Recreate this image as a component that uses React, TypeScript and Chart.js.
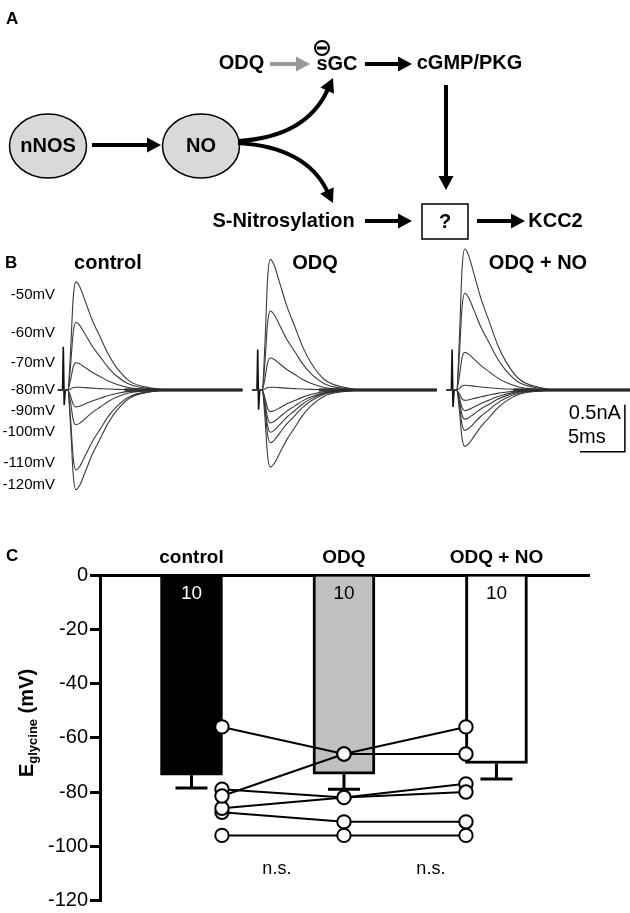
import React, { useEffect, useRef } from 'react';
import { Chart, registerables } from 'chart.js';

Chart.register(...registerables);

const FONT = '"Liberation Sans", Arial, Helvetica, sans-serif';

// ---------------- Panel C data ----------------
const CATEGORIES = ['control', 'ODQ', 'ODQ + NO'];
const MEANS = [-73.8, -73.4, -69.5];
const SEMS = [4.7, 5.6, 5.7];
const N_CELLS = ['10', '10', '10'];
const BAR_COLORS = ['#000000', '#c0c0c0', '#ffffff'];
const N_LABEL_COLORS = ['#ffffff', '#000000', '#000000'];
const CONTROL_CELLS = [-56, -81.5, -79, -86, -87.5, -96];
const ODQ_CELLS = [-66, -66, -82, -82, -91, -96];
const ODQ_NO_CELLS = [-66, -56, -80, -77, -91, -96];
const CELL_X = [0.2, 1, 1.8];
const SIG_LABELS = ['n.s.', 'n.s.'];
const SIG_X = [0.56, 1.57];
const SIG_Y = -108.3;

// ---------------- Panel B data ----------------
const TRACE_TITLES = ['control', 'ODQ', 'ODQ + NO'];
const TRACE_OFFSETS_MS = [0, 21.6, 43.2];
const CONTROL_AMPS = [1.15, 0.72, 0.29, 0.03, -0.18, -0.37, -0.85, -1.06];
const ODQ_AMPS = [1.39, 0.84, 0.34, 0.03, -0.23, -0.35, -0.45, -0.56, -0.82];
const ODQ_NO_AMPS = [1.5, 1.03, 0.4, 0.05, -0.11, -0.22, -0.31, -0.43, -0.6];
const WAVE_T = [-0.6, 0.5, 0.8, 1.1, 1.4, 1.8, 2.4, 3.2, 4.1, 5.0, 5.9, 7.4, 9.6, 12, 19.9];
const WAVE_SHAPE = [0, 0, 0.35, 0.85, 1, 0.96, 0.83, 0.65, 0.49, 0.33, 0.21, 0.08, 0.02, 0, 0];
const ARTIFACT_T = [-0.6, -0.08, 0, 0.1, 0.22, 0.5];
const ARTIFACT_UP = [0.46, 0.43, 0.43];
const ARTIFACT_DOWN = [-0.16, -0.21, -0.18];
const HOLDING_LABELS = ['-50mV', '-60mV', '-70mV', '-80mV', '-90mV', '-100mV', '-110mV', '-120mV'];
const HOLDING_LABEL_NA = [1.01, 0.61, 0.29, 0.0, -0.22, -0.45, -0.77, -1.01];
const SCALE_BAR_MS = 5;
const SCALE_BAR_NA = 0.5;
const SCALE_BAR_LABELS = ['0.5nA', '5ms'];

// ---------------- layout constants ----------------
const B_TOP = 235;
const B_H = 270;
const C_TOP = 540;
const C_H = 373;

function text(
  ctx: CanvasRenderingContext2D,
  s: string,
  x: number,
  y: number,
  font: string,
  align: CanvasTextAlign = 'center',
  color = '#000'
) {
  ctx.save();
  ctx.font = font;
  ctx.fillStyle = color;
  ctx.textAlign = align;
  ctx.textBaseline = 'middle';
  ctx.fillText(s, x, y);
  ctx.restore();
}

function arrowHead(ctx: CanvasRenderingContext2D, tx: number, ty: number, dx: number, dy: number, len: number, hw: number, color: string) {
  const l = Math.hypot(dx, dy);
  const ux = dx / l, uy = dy / l;
  const bx = tx - ux * len, by = ty - uy * len;
  ctx.beginPath();
  ctx.moveTo(tx, ty);
  ctx.lineTo(bx - uy * hw, by + ux * hw);
  ctx.lineTo(bx + uy * hw, by - ux * hw);
  ctx.closePath();
  ctx.fillStyle = color;
  ctx.fill();
}

function straightArrow(ctx: CanvasRenderingContext2D, x1: number, y1: number, x2: number, y2: number, color = '#000') {
  const len = 14, hw = 7.5;
  const l = Math.hypot(x2 - x1, y2 - y1);
  const ux = (x2 - x1) / l, uy = (y2 - y1) / l;
  ctx.save();
  ctx.strokeStyle = color;
  ctx.lineWidth = 4;
  ctx.beginPath();
  ctx.moveTo(x1, y1);
  ctx.lineTo(x2 - ux * (len - 1), y2 - uy * (len - 1));
  ctx.stroke();
  arrowHead(ctx, x2, y2, ux, uy, len, hw, color);
  ctx.restore();
}

function curvedArrow(ctx: CanvasRenderingContext2D, x0: number, y0: number, cx: number, cy: number, x1: number, y1: number) {
  const len = 14, hw = 7.5;
  const dx = x1 - cx, dy = y1 - cy;
  const l = Math.hypot(dx, dy);
  const ux = dx / l, uy = dy / l;
  ctx.save();
  ctx.strokeStyle = '#000';
  ctx.lineWidth = 4;
  ctx.beginPath();
  ctx.moveTo(x0, y0);
  ctx.quadraticCurveTo(cx, cy, x1 - ux * (len - 1), y1 - uy * (len - 1));
  ctx.stroke();
  arrowHead(ctx, x1, y1, ux, uy, len, hw, '#000');
  ctx.restore();
}

const diagramPlugin = {
  id: 'diagram',
  afterDraw(chart: any) {
    const ctx: CanvasRenderingContext2D = chart.ctx;
    const sx = (v: number) => chart.scales.x.getPixelForValue(v);
    const sy = (v: number) => chart.scales.y.getPixelForValue(v);
    const bold = `bold 20px ${FONT}`;
    ctx.save();
    text(ctx, 'A', sx(6), sy(19), `bold 17px ${FONT}`, 'left');

    // ellipses
    const ellipses: [string, number, number][] = [['nNOS', 48, 146], ['NO', 201, 146]];
    for (const [label, x, y] of ellipses) {
      ctx.beginPath();
      ctx.ellipse(sx(x), sy(y), 38.5, 32, 0, 0, Math.PI * 2);
      ctx.fillStyle = '#d9d9d9';
      ctx.fill();
      ctx.lineWidth = 1.5;
      ctx.strokeStyle = '#000';
      ctx.stroke();
      text(ctx, label, sx(x), sy(y), bold);
    }
    straightArrow(ctx, sx(92), sy(145), sx(161), sy(145));

    // top row
    text(ctx, 'ODQ', sx(241.5), sy(63), bold);
    straightArrow(ctx, sx(270), sy(64), sx(310), sy(64), '#999999');
    text(ctx, 'sGC', sx(337), sy(64), bold);
    // minus circle
    ctx.beginPath();
    ctx.arc(sx(322), sy(48), 7, 0, Math.PI * 2);
    ctx.fillStyle = '#fff';
    ctx.fill();
    ctx.lineWidth = 2;
    ctx.strokeStyle = '#000';
    ctx.stroke();
    ctx.fillStyle = '#000';
    ctx.fillRect(sx(317), sy(46.5), 10, 3);
    straightArrow(ctx, sx(365), sy(64), sx(412), sy(64));
    text(ctx, 'cGMP/PKG', sx(469.5), sy(63), bold);
    straightArrow(ctx, sx(446), sy(85), sx(446), sy(190));

    // curved branches
    curvedArrow(ctx, sx(238), sy(141), sx(306), sy(137), sx(333), sy(78));
    curvedArrow(ctx, sx(238), sy(143), sx(306), sy(147), sx(333), sy(203));

    // bottom row
    text(ctx, 'S-Nitrosylation', sx(283.5), sy(221), bold);
    straightArrow(ctx, sx(365), sy(221), sx(412), sy(221));
    ctx.lineWidth = 1.5;
    ctx.strokeStyle = '#000';
    ctx.strokeRect(sx(422), sy(204), 46, 35);
    text(ctx, '?', sx(445), sy(222), bold);
    straightArrow(ctx, sx(477), sy(221), sx(525), sy(221));
    text(ctx, 'KCC2', sx(555.5), sy(221), bold);
    ctx.restore();
  },
};

const tracesPlugin = {
  id: 'tracesText',
  afterDraw(chart: any) {
    const ctx: CanvasRenderingContext2D = chart.ctx;
    const xs = chart.scales.x, ys = chart.scales.y;
    text(ctx, 'B', 5, 263 - B_TOP, `bold 17px ${FONT}`, 'left');
    const titleX = [108, 315, 538];
    TRACE_TITLES.forEach((t, i) => text(ctx, t, titleX[i], 263 - B_TOP, `bold 20px ${FONT}`));
    HOLDING_LABELS.forEach((l, i) => text(ctx, l, 55, ys.getPixelForValue(HOLDING_LABEL_NA[i]), `15px ${FONT}`, 'right'));
    // scale bar
    const xr = xs.getPixelForValue(62.4);
    const xl = xs.getPixelForValue(62.4 - SCALE_BAR_MS);
    const yb = ys.getPixelForValue(-0.656);
    const yt = ys.getPixelForValue(-0.656 + SCALE_BAR_NA);
    ctx.save();
    ctx.strokeStyle = '#000';
    ctx.lineWidth = 1.5;
    ctx.beginPath();
    ctx.moveTo(xr, yt);
    ctx.lineTo(xr, yb);
    ctx.lineTo(xl, yb);
    ctx.stroke();
    ctx.restore();
    text(ctx, SCALE_BAR_LABELS[0], xr - 4, yt + 9, `20px ${FONT}`, 'right');
    text(ctx, SCALE_BAR_LABELS[1], xl - 12, yb - 14, `20px ${FONT}`, 'left');
  },
};

const panelCPlugin = {
  id: 'panelC',
  afterDatasetDraw(chart: any, args: any) {
    if (args.meta.type !== 'bar') return;
    const ctx: CanvasRenderingContext2D = chart.ctx;
    const xs = chart.scales.x, ys = chart.scales.y;
    ctx.save();
    ctx.strokeStyle = '#000';
    ctx.lineWidth = 3;
    MEANS.forEach((m, i) => {
      const x = xs.getPixelForValue(i);
      const y1 = ys.getPixelForValue(m);
      const y2 = ys.getPixelForValue(m - SEMS[i]);
      ctx.beginPath();
      ctx.moveTo(x, y1);
      ctx.lineTo(x, y2);
      ctx.moveTo(x - 16, y2);
      ctx.lineTo(x + 16, y2);
      ctx.stroke();
    });
    ctx.restore();
  },
  afterDraw(chart: any) {
    const ctx: CanvasRenderingContext2D = chart.ctx;
    const xs = chart.scales.x, ys = chart.scales.y;
    text(ctx, 'C', 6, 556 - C_TOP, `bold 17px ${FONT}`, 'left');
    N_CELLS.forEach((n, i) => text(ctx, n, xs.getPixelForValue(i), ys.getPixelForValue(-7), `19px ${FONT}`, 'center', N_LABEL_COLORS[i]));
    SIG_LABELS.forEach((s, i) => text(ctx, s, xs.getPixelForValue(SIG_X[i]), ys.getPixelForValue(SIG_Y), `18px ${FONT}`));
    // y title
    ctx.save();
    ctx.translate(33, 723 - C_TOP);
    ctx.rotate(-Math.PI / 2);
    ctx.fillStyle = '#000';
    ctx.textBaseline = 'alphabetic';
    ctx.textAlign = 'left';
    const f1 = `bold 20px ${FONT}`;
    const f2 = `bold 13px ${FONT}`;
    ctx.font = f1;
    const w1 = ctx.measureText('E').width;
    const w3 = ctx.measureText(' (mV)').width;
    ctx.font = f2;
    const w2 = ctx.measureText('glycine').width;
    const start = -(w1 + w2 + w3) / 2;
    ctx.font = f1;
    ctx.fillText('E', start, 0);
    ctx.font = f2;
    ctx.fillText('glycine', start + w1, 4);
    ctx.font = f1;
    ctx.fillText(' (mV)', start + w1 + w2, 0);
    ctx.restore();
  },
};

export default function App() {
  const aRef = useRef<HTMLCanvasElement>(null);
  const bRef = useRef<HTMLCanvasElement>(null);
  const cRef = useRef<HTMLCanvasElement>(null);

  useEffect(() => {
    const charts: Chart[] = [];

    // Panel A
    charts.push(
      new Chart(aRef.current!, {
        type: 'scatter',
        data: { datasets: [] },
        options: {
          animation: false,
          responsive: false,
          events: [],
          layout: { padding: 0 },
          plugins: { legend: { display: false }, tooltip: { enabled: false } },
          scales: {
            x: { type: 'linear', display: false, min: 0, max: 630 },
            y: { type: 'linear', display: false, min: 0, max: 240, reverse: true },
          },
        },
        plugins: [diagramPlugin],
      } as any)
    );

    // Panel B
    const ampSets = [CONTROL_AMPS, ODQ_AMPS, ODQ_NO_AMPS];
    const bDatasets: any[] = [];
    ampSets.forEach((amps, c) => {
      const off = TRACE_OFFSETS_MS[c];
      bDatasets.push({
        data: [{ x: off + 6.8, y: 0 }, { x: off + 19.9, y: 0 }],
        borderColor: 'rgba(40,40,40,0.85)',
        borderWidth: 3.5,
        pointRadius: 0,
        tension: 0,
      });
      amps.forEach((a) => {
        bDatasets.push({
          data: WAVE_T.map((t, i) => ({ x: off + t, y: a * WAVE_SHAPE[i] })),
          borderColor: '#3a3a3a',
          borderWidth: 1.1,
          pointRadius: 0,
          cubicInterpolationMode: 'monotone',
        });
      });
      const art = [0, 0, ARTIFACT_UP[c], ARTIFACT_DOWN[c], 0, 0];
      bDatasets.push({
        data: ARTIFACT_T.map((t, i) => ({ x: off + t, y: art[i] })),
        borderColor: '#111',
        borderWidth: 1.6,
        pointRadius: 0,
        tension: 0,
      });
    });
    charts.push(
      new Chart(bRef.current!, {
        type: 'line',
        data: { datasets: bDatasets },
        options: {
          animation: false,
          responsive: false,
          events: [],
          layout: { padding: 0 },
          plugins: { legend: { display: false }, tooltip: { enabled: false } },
          scales: {
            x: { type: 'linear', display: false, min: -63.3 / 9, max: (630 - 63.3) / 9 },
            y: { type: 'linear', display: false, min: -(B_H - (390 - B_TOP)) / 94, max: (390 - B_TOP) / 94 },
          },
        },
        plugins: [tracesPlugin],
      } as any)
    );

    // Panel C
    const cells = CONTROL_CELLS.map((v, i) => [v, ODQ_CELLS[i], ODQ_NO_CELLS[i]]);
    const cDatasets: any[] = [
      {
        type: 'bar',
        data: MEANS.map((m, i) => ({ x: i, y: m })),
        backgroundColor: BAR_COLORS,
        borderColor: '#000',
        borderWidth: 3,
        borderSkipped: 'start',
        barThickness: 62,
        order: 3,
      },
      ...cells.map((s) => ({
        type: 'line',
        data: s.map((v, j) => ({ x: CELL_X[j], y: v })),
        borderColor: '#000',
        borderWidth: 2,
        pointRadius: 0,
        tension: 0,
        fill: false,
        order: 2,
      })),
      ...cells.map((s) => ({
        type: 'line',
        data: s.map((v, j) => ({ x: CELL_X[j], y: v })),
        showLine: false,
        pointRadius: 6.7,
        pointBackgroundColor: '#fff',
        pointBorderColor: '#000',
        pointBorderWidth: 2,
        order: 1,
        clip: false,
      })),
    ];
    charts.push(
      new Chart(cRef.current!, {
        type: 'bar',
        data: { datasets: cDatasets },
        options: {
          animation: false,
          responsive: false,
          events: [],
          layout: { padding: { left: 0, right: 41, top: 0, bottom: 0 } },
          plugins: { legend: { display: false }, tooltip: { enabled: false } },
          scales: {
            x: {
              type: 'linear',
              position: 'top',
              offset: false,
              min: -0.6,
              max: 2.607,
              afterBuildTicks: (scale: any) => {
                scale.ticks = CATEGORIES.map((_, i) => ({ value: i }));
              },
              afterFit: (scale: any) => {
                scale.height = 35;
              },
              ticks: {
                callback: (v: any) => CATEGORIES[v as number] ?? '',
                autoSkip: false,
                maxRotation: 0,
                padding: 6,
                color: '#000',
                font: { family: FONT, size: 19, weight: 'bold' },
              },
              grid: { display: false, drawTicks: false, offset: false },
              border: { display: true, width: 3, color: '#000' },
            },
            y: {
              type: 'linear',
              min: -120,
              max: 0,
              afterFit: (scale: any) => {
                scale.width = 100;
              },
              ticks: {
                stepSize: 20,
                padding: 2,
                color: '#000',
                font: { family: FONT, size: 20, lineHeight: 1.05 },
              },
              grid: {
                display: true,
                drawOnChartArea: false,
                drawTicks: true,
                tickLength: 10,
                lineWidth: 3,
                color: '#000',
              },
              border: { display: true, width: 3, color: '#000' },
            },
          },
        },
        plugins: [panelCPlugin],
      } as any)
    );

    return () => charts.forEach((c) => c.destroy());
  }, []);

  const canvasStyle = (top: number, h: number): React.CSSProperties => ({
    position: 'absolute',
    left: 0,
    top,
    width: 630,
    height: h,
  });

  return (
    <div style={{ position: 'absolute', left: 0, top: 0, width: 630, height: 913, background: '#fff', overflow: 'hidden' }}>
      <canvas ref={aRef} width={630} height={240} style={canvasStyle(0, 240)} />
      <canvas ref={bRef} width={630} height={B_H} style={canvasStyle(B_TOP, B_H)} />
      <canvas ref={cRef} width={630} height={C_H} style={canvasStyle(C_TOP, C_H)} />
    </div>
  );
}
